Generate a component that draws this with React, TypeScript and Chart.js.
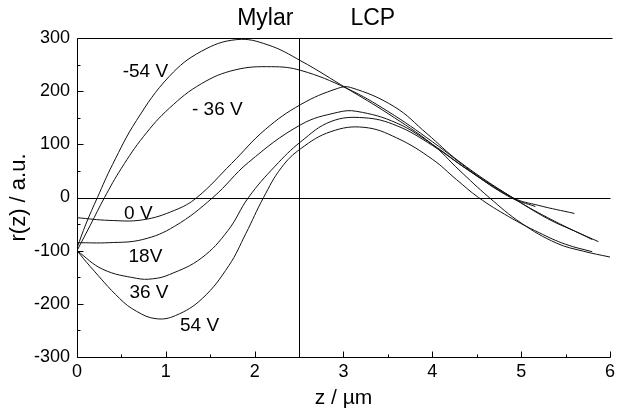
import React, { useEffect, useRef } from "react";
import { Chart, registerables } from "chart.js";

Chart.register(...registerables);

// ---- data (z in µm, r(z) in a.u.) ----
const zNeg54 = [0, 0.1, 0.23, 0.4, 0.67, 1.04, 1.4, 1.8, 2.15, 2.52, 3.04, 3.5, 4.0, 4.3, 4.64, 5.0, 5.4, 5.7, 6.0];
const rNeg54 = [-95, -50, 0, 62, 145, 228, 275, 297, 287, 257, 205, 158, 100, 52, 0, -48, -86, -101, -112];

const zNeg36 = [0, 0.15, 0.31, 0.5, 0.75, 1.04, 1.4, 1.78, 2.19, 2.52, 3.04, 3.5, 4.0, 4.5, 4.9, 5.3, 5.6, 5.87];
const rNeg36 = [-100, -52, 0, 55, 115, 168, 214, 240, 246, 239, 205, 162, 105, 42, 0, -40, -63, -83];

const z0 = [0, 0.36, 0.74, 1.1, 1.35, 1.74, 2.12, 2.52, 2.93, 3.08, 3.57, 3.94, 4.3, 4.9, 5.3, 5.8];
const r0 = [-38, -43, -42, -24, 0, 64, 128, 175, 205, 207, 171, 120, 68, 0, -38, -79];

const z18 = [0, 0.36, 0.74, 1.1, 1.53, 1.93, 2.52, 2.93, 3.15, 3.6, 4.0, 4.4, 4.9, 5.2, 5.6];
const r18 = [-85, -85, -79, -54, 0, 66, 137, 160, 162, 140, 100, 52, 0, -15, -30];

const z36 = [0, 0.29, 0.67, 0.85, 1.04, 1.4, 1.7, 1.93, 2.23, 2.52, 2.86, 3.23, 3.6, 4.0, 4.4, 4.88, 5.16];
const r36 = [-100, -135, -152, -153, -145, -114, -62, 0, 59, 105, 143, 150, 135, 98, 52, 0, -17];

const z54 = [0, 0.15, 0.48, 0.67, 0.89, 1.11, 1.41, 1.71, 1.9, 2.1, 2.3, 2.52, 2.86, 3.23, 3.6, 4.0, 4.27, 4.52, 4.86, 5.2, 5.5, 5.8];
const r54 = [-100, -130, -190, -214, -228, -222, -190, -128, -68, 0, 56, 92, 124, 132, 112, 72, 34, 0, -36, -66, -88, -102];

const seriesNames = ["-54 V", "- 36 V", "0 V", "18V", "36 V", "54 V"];
const seriesZ = [zNeg54, zNeg36, z0, z18, z36, z54];
const seriesR = [rNeg54, rNeg36, r0, r18, r36, r54];
// label anchor positions (data coords)
const labelZ = [0.77, 1.58, 0.69, 0.77, 0.81, 1.38];
const labelR = [237, 165, -30, -111, -179, -241];

const xTicks = [0, 1, 2, 3, 4, 5, 6];
const yTicks = [-300, -200, -100, 0, 100, 200, 300];
const boundaryZ = 2.5;
const regionNames = ["Mylar", "LCP"];
const regionZ = [2.12, 3.33];

const FONT = "'Liberation Sans', Arial, sans-serif";

export default function App() {
  const ref = useRef<HTMLCanvasElement | null>(null);

  useEffect(() => {
    const canvas = ref.current;
    if (!canvas) return;

    const overlay = {
      id: "overlay",
      afterDatasetsDraw(chart: any) {
        const { ctx, chartArea: a, scales } = chart;
        const x = scales.x;
        const y = scales.y;
        const px = (v: number) => Math.round(x.getPixelForValue(v)) + 0.5;
        const py = (v: number) => Math.round(y.getPixelForValue(v)) + 0.5;
        ctx.save();
        ctx.strokeStyle = "#000";
        ctx.lineWidth = 1;
        const seg = (x1: number, y1: number, x2: number, y2: number) => {
          ctx.beginPath();
          ctx.moveTo(x1, y1);
          ctx.lineTo(x2, y2);
          ctx.stroke();
        };
        const L = px(0), R = px(6), T = py(300), B = py(-300);
        seg(L, T, L, B);
        seg(L, B, R, B);
        seg(L, T, R + 2, T);
        seg(L, py(0), R, py(0));
        seg(px(boundaryZ), T, px(boundaryZ), B);
        // x ticks (inward)
        for (let v = 0; v <= 6.001; v += 0.5) {
          const major = Math.abs(v - Math.round(v)) < 1e-6;
          seg(px(v), B, px(v), B - (major ? 6 : 3));
        }
        // y ticks (inward)
        for (let v = -300; v <= 300; v += 50) {
          const major = v % 100 === 0;
          seg(L, py(v), L + (major ? 6 : 3), py(v));
        }
        ctx.fillStyle = "#000";
        ctx.textAlign = "center";
        ctx.textBaseline = "middle";
        ctx.font = `19px ${FONT}`;
        for (let i = 0; i < seriesNames.length; i++) {
          ctx.fillText(seriesNames[i], x.getPixelForValue(labelZ[i]), y.getPixelForValue(labelR[i]));
        }
        ctx.font = `23px ${FONT}`;
        for (let i = 0; i < regionNames.length; i++) {
          ctx.fillText(regionNames[i], x.getPixelForValue(regionZ[i]), a.top - 19);
        }
        // axis titles
        ctx.font = `21px ${FONT}`;
        ctx.fillText("z / µm", (a.left + a.right) / 2, a.bottom + 41);
        ctx.save();
        ctx.translate(19, (a.top + a.bottom) / 2);
        ctx.rotate(-Math.PI / 2);
        ctx.font = `22px ${FONT}`;
        ctx.fillText("r(z) / a.u.", 0, 0);
        ctx.restore();
        ctx.restore();
      },
    };

    const datasets = seriesNames.map((name, i) => ({
      label: name,
      data: seriesZ[i].map((z, j) => ({ x: z, y: seriesR[i][j] })),
      borderColor: "#111",
      borderWidth: 1,
      pointRadius: 0,
      fill: false,
      tension: 0.4,
    }));

    const chart = new Chart(canvas, {
      type: "line",
      data: { datasets },
      options: {
        responsive: false,
        animation: false,
        layout: { padding: { top: 38, right: 4, left: 0, bottom: 0 } },
        plugins: { legend: { display: false }, tooltip: { enabled: false } },
        scales: {
          x: {
            type: "linear",
            min: 0,
            max: 6,
            afterBuildTicks: (s: any) => {
              s.ticks = xTicks.map((v) => ({ value: v }));
            },
            afterFit: (s: any) => {
              s.height = 56;
            },
            grid: { display: false, drawTicks: false },
            border: { display: false },
            ticks: { color: "#000", font: { family: FONT, size: 18 }, padding: 4, maxRotation: 0 },
          },
          y: {
            type: "linear",
            min: -300,
            max: 300,
            afterBuildTicks: (s: any) => {
              s.ticks = yTicks.map((v) => ({ value: v }));
            },
            afterFit: (s: any) => {
              s.width = 77;
            },
            grid: { display: false, drawTicks: false },
            border: { display: false },
            ticks: { color: "#000", font: { family: FONT, size: 18 }, padding: 7 },
          },
        },
      },
      plugins: [overlay],
    });
    return () => chart.destroy();
  }, []);

  return (
    <div style={{ position: "fixed", left: 0, top: 0, width: 619, height: 413, background: "#fff" }}>
      <canvas ref={ref} width={619} height={413} style={{ display: "block" }} />
    </div>
  );
}
